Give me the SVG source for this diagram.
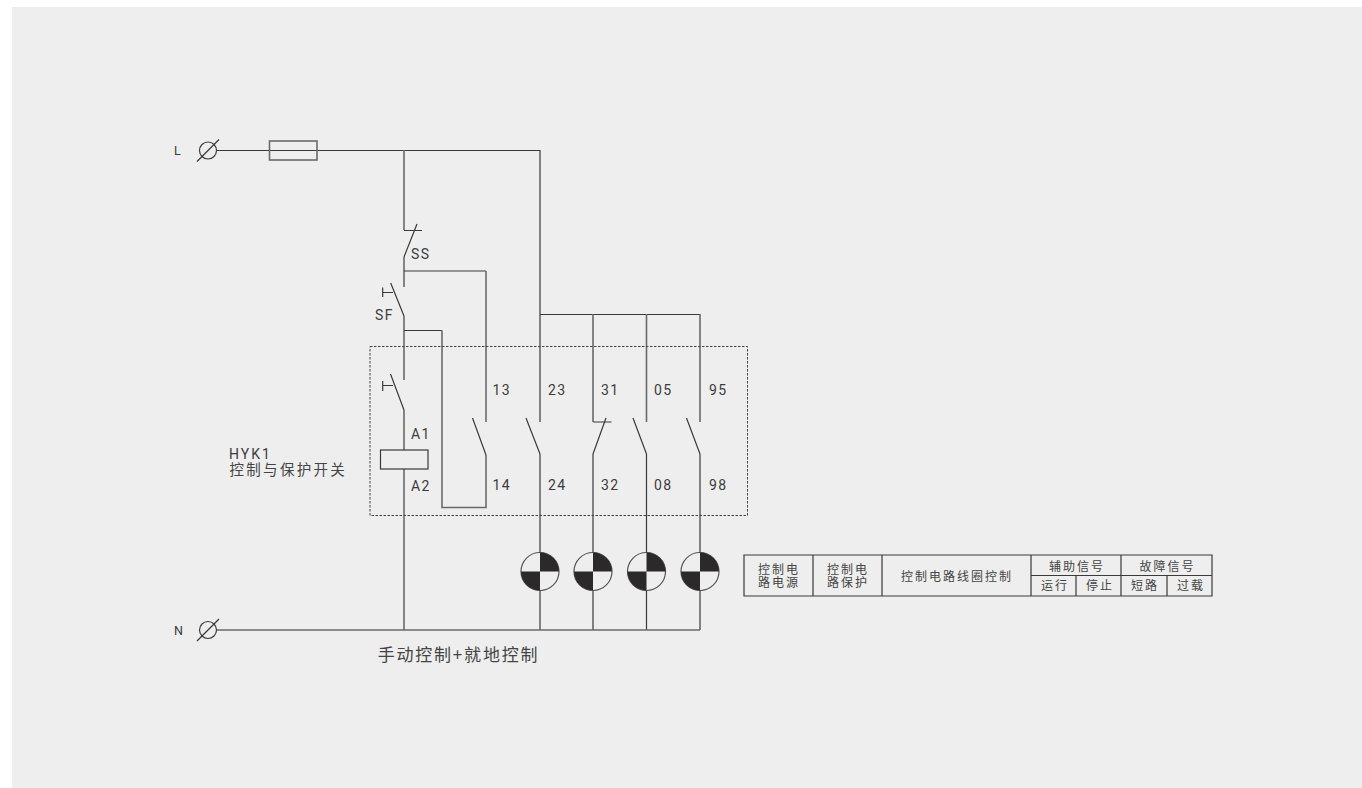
<svg xmlns="http://www.w3.org/2000/svg" width="1362" height="788" viewBox="0 0 1362 788">
<style>
.w{fill:none;stroke:#3a3a3a;stroke-width:1.2}
.v{fill:none;stroke:#6a6a6a;stroke-width:1.6}
.t{font-family:Roboto,"Noto Sans CJK SC",sans-serif;fill:#3c3c3c;font-size:14px;letter-spacing:1.4px}
.c{font-family:"Noto Sans CJK SC","Liberation Sans",sans-serif;fill:#444;font-size:12px;letter-spacing:2px;text-anchor:middle}
.k{fill:#2b2929}
</style>
<rect x="0" y="0" width="1362" height="788" fill="#fff"/>
<rect x="12" y="7" width="1350" height="781" fill="#eeeeee"/>
<g id="connectors">
<path class="w" d="M217 150.5H540M540 150V422M540 314.5H700"/>
<path class="v" d="M404 150V230M404 257V287M404 316V380M404 410V450M404 469V630"/>
<path class="w" d="M404 230.500H422M417 224L404 257M404 271H486M404 330.500H442"/>
<path class="v" d="M486 271V422M486 455V507.500H442V330.500"/>
<path class="v" d="M593 314V422M646.500 314V422M700 314V422"/>
<path class="w" d="M540 454V630M593 454V630M646.500 454V630M700 454V630"/>
<path class="w" d="M472.500 418L486 455M526 418L540 454M593 422H611.500M606 418L593 454M633 418L646.500 454M686.500 418L700 454"/>
<path class="v" d="M217 630H700"/>
</g>
<g id="terminal-L"><circle class="w" cx="208" cy="150.500" r="8.500"/><path class="w" d="M197 161.500L219 139.500"/><text class="t" x="174" y="155" style="font-size:12.500px">L</text></g>
<g id="terminal-N"><circle class="w" cx="208" cy="630" r="8.500"/><path class="w" d="M197 641L219 619"/><text class="t" x="174" y="635" style="font-size:12.500px">N</text></g>
<g id="fuse"><rect class="v" x="269.500" y="141" width="47.500" height="19"/></g>
<g id="SS"><text class="t" x="411" y="259">SS</text></g>
<g id="SF"><path class="w" d="M390.700 283L404 316M382.700 287.500V297M382.700 292.500H393"/><text class="t" x="375" y="320">SF</text></g>
<g id="button"><path class="w" d="M390.500 374L404 410M382.700 381V391M382.700 385.500H393"/></g>
<g id="coil"><rect class="w" x="380.500" y="450" width="47.500" height="19"/><text class="t" x="411" y="439">A1</text><text class="t" x="411" y="491">A2</text></g>
<g id="hyk1"><text class="t" x="229" y="459" style="letter-spacing:2px">HYK1<tspan x="229.500" y="474.500" style="font-family:'Noto Sans CJK SC',sans-serif;font-size:14.500px;letter-spacing:2.300px;fill:#444">控制与保护开关</tspan></text></g>
<g id="box"><rect x="370" y="346.500" width="377.500" height="169" fill="none" stroke="#444" stroke-width="1" stroke-dasharray="2.500 1.500"/></g>
<g id="labels">
<text class="t" x="492.500" y="395">13</text><text class="t" x="548" y="395">23</text><text class="t" x="601" y="395">31</text><text class="t" x="654" y="395">05</text><text class="t" x="709" y="395">95</text>
<text class="t" x="492.500" y="490">14</text><text class="t" x="548" y="490">24</text><text class="t" x="601" y="490">32</text><text class="t" x="654" y="490">08</text><text class="t" x="709" y="490">98</text>
</g>
<defs><g id="lamp"><circle r="19" fill="#eee" stroke="#555" stroke-width="1.200"/><path class="k" d="M0 0V-19A19 19 0 0 1 19 0ZM0 0V19A19 19 0 0 1 -19 0Z"/></g></defs>
<g id="lamp1"><use href="#lamp" x="540" y="571.500"/></g>
<g id="lamp2"><use href="#lamp" x="593" y="571.500"/></g>
<g id="lamp3"><use href="#lamp" x="646.500" y="571.500"/></g>
<g id="lamp4"><use href="#lamp" x="700" y="571.500"/></g>
<g id="table">
<path class="w" d="M744 555H1212V596H744ZM813 555V596M882 555V596M1031 555V596M1121 555V596M1031 575.500H1212M1076 575.500V596M1167 575.500V596"/>
<text class="c" x="779" y="574">控制电<tspan x="779" y="586.500">路电源</tspan></text>
<text class="c" x="848" y="574">控制电<tspan x="848" y="586.500">路保护</tspan></text>
<text class="c" x="957" y="581">控制电路线圈控制</text>
<text class="c" x="1077" y="570.500">辅助信号</text><text class="c" x="1167.500" y="570.500">故障信号</text>
<text class="c" x="1055" y="590">运行</text><text class="c" x="1100" y="590">停止</text><text class="c" x="1145" y="590">短路</text><text class="c" x="1191" y="590">过载</text>
</g>
<g id="caption"><text class="c" x="458.500" y="661" style="font-size:17px;letter-spacing:1.800px">手动控制+就地控制</text></g>
</svg>
